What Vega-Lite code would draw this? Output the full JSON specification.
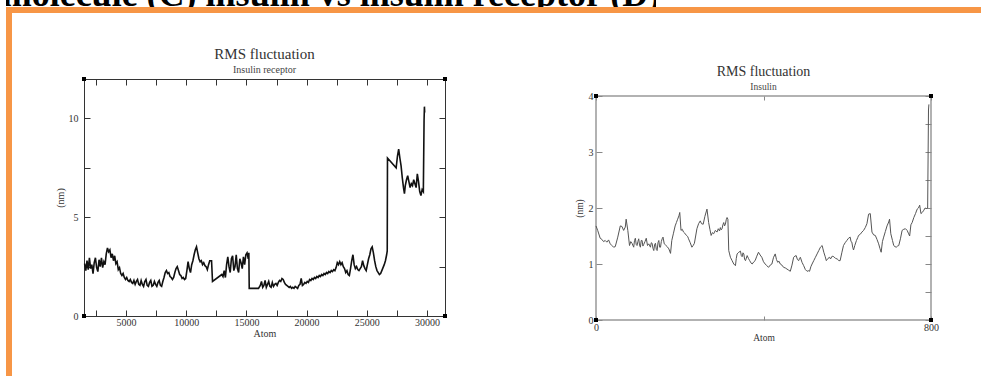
{
  "$schema": "https://vega.github.io/schema/vega-lite/v6.json",
  "padding": {"left": 6, "top": 0, "right": 0, "bottom": 0},
  "background": "white",
  "spacing": 0,
  "bounds": "flush",
  "config": {"font": "Liberation Serif", "axis": {"grid": false, "domain": false, "labelFlush": false}},
  "datasets": {
    "caption": [{"text": "molecule (C) insulin vs insulin receptor (D)"}],
    "blank": [{}],
    "receptor": [
      {"atom":1550,"rmsf":2.65},{"atom":1650,"rmsf":2.3},{"atom":1750,"rmsf":2.8},{"atom":1850,"rmsf":2.35},{"atom":1950,"rmsf":2.95},{"atom":2050,"rmsf":2.4},{"atom":2150,"rmsf":2.6},{"atom":2250,"rmsf":2.15},{"atom":2350,"rmsf":2.7},{"atom":2450,"rmsf":2.95},{"atom":2550,"rmsf":2.45},{"atom":2650,"rmsf":2.25},{"atom":2750,"rmsf":2.85},{"atom":2850,"rmsf":2.5},{"atom":2950,"rmsf":2.95},{"atom":3050,"rmsf":2.45},{"atom":3150,"rmsf":2.75},{"atom":3250,"rmsf":2.6},{"atom":3350,"rmsf":3.15},{"atom":3450,"rmsf":3.45},{"atom":3550,"rmsf":3.25},{"atom":3650,"rmsf":3.35},{"atom":3750,"rmsf":2.95},{"atom":3850,"rmsf":3.15},{"atom":3950,"rmsf":2.8},{"atom":4050,"rmsf":3.05},{"atom":4150,"rmsf":2.65},{"atom":4250,"rmsf":2.75},{"atom":4350,"rmsf":2.35},{"atom":4450,"rmsf":2.45},{"atom":4550,"rmsf":2.15},{"atom":4650,"rmsf":2.05},{"atom":4750,"rmsf":2.15},{"atom":4850,"rmsf":1.95},{"atom":4950,"rmsf":1.85},{"atom":5050,"rmsf":1.95},{"atom":5150,"rmsf":1.8},{"atom":5250,"rmsf":1.75},{"atom":5350,"rmsf":1.85},{"atom":5450,"rmsf":1.7},{"atom":5550,"rmsf":1.65},{"atom":5650,"rmsf":1.8},{"atom":5750,"rmsf":1.6},{"atom":5850,"rmsf":1.75},{"atom":5950,"rmsf":1.85},{"atom":6050,"rmsf":1.6},{"atom":6150,"rmsf":1.55},{"atom":6250,"rmsf":1.8},{"atom":6350,"rmsf":1.6},{"atom":6450,"rmsf":1.5},{"atom":6550,"rmsf":1.75},{"atom":6650,"rmsf":1.85},{"atom":6750,"rmsf":1.55},{"atom":6850,"rmsf":1.5},{"atom":6950,"rmsf":1.7},{"atom":7050,"rmsf":1.8},{"atom":7150,"rmsf":1.5},{"atom":7250,"rmsf":1.55},{"atom":7350,"rmsf":1.75},{"atom":7450,"rmsf":1.6},{"atom":7550,"rmsf":1.5},{"atom":7650,"rmsf":1.7},{"atom":7750,"rmsf":1.8},{"atom":7850,"rmsf":1.55},{"atom":7950,"rmsf":1.5},{"atom":8050,"rmsf":1.75},{"atom":8150,"rmsf":1.95},{"atom":8250,"rmsf":2.2},{"atom":8350,"rmsf":2.3},{"atom":8450,"rmsf":2.15},{"atom":8550,"rmsf":2.2},{"atom":8650,"rmsf":2.0},{"atom":8750,"rmsf":1.95},{"atom":8850,"rmsf":1.85},{"atom":8950,"rmsf":1.95},{"atom":9050,"rmsf":2.2},{"atom":9150,"rmsf":2.4},{"atom":9250,"rmsf":2.5},{"atom":9350,"rmsf":2.3},{"atom":9450,"rmsf":2.1},{"atom":9550,"rmsf":2.05},{"atom":9650,"rmsf":1.9},{"atom":9750,"rmsf":1.95},{"atom":9850,"rmsf":1.85},{"atom":9950,"rmsf":1.9},{"atom":10050,"rmsf":2.3},{"atom":10150,"rmsf":2.75},{"atom":10250,"rmsf":2.4},{"atom":10350,"rmsf":2.2},{"atom":10450,"rmsf":2.6},{"atom":10550,"rmsf":2.8},{"atom":10650,"rmsf":3.1},{"atom":10750,"rmsf":3.35},{"atom":10850,"rmsf":3.5},{"atom":10950,"rmsf":3.2},{"atom":11050,"rmsf":2.9},{"atom":11150,"rmsf":2.75},{"atom":11250,"rmsf":2.8},{"atom":11350,"rmsf":2.6},{"atom":11450,"rmsf":2.7},{"atom":11550,"rmsf":2.55},{"atom":11650,"rmsf":2.5},{"atom":11750,"rmsf":2.35},{"atom":11850,"rmsf":2.6},{"atom":11950,"rmsf":2.8},{"atom":12100,"rmsf":2.8},{"atom":12180,"rmsf":1.75},{"atom":12950,"rmsf":2.1},{"atom":13050,"rmsf":2.0},{"atom":13150,"rmsf":2.3},{"atom":13250,"rmsf":1.95},{"atom":13350,"rmsf":2.6},{"atom":13450,"rmsf":3.0},{"atom":13550,"rmsf":2.5},{"atom":13650,"rmsf":2.2},{"atom":13750,"rmsf":2.9},{"atom":13850,"rmsf":3.05},{"atom":13950,"rmsf":2.3},{"atom":14050,"rmsf":2.5},{"atom":14150,"rmsf":3.1},{"atom":14250,"rmsf":2.4},{"atom":14350,"rmsf":2.2},{"atom":14450,"rmsf":2.9},{"atom":14550,"rmsf":2.7},{"atom":14650,"rmsf":2.4},{"atom":14750,"rmsf":3.0},{"atom":14850,"rmsf":2.6},{"atom":14950,"rmsf":3.1},{"atom":15050,"rmsf":3.2},{"atom":15150,"rmsf":2.9},{"atom":15200,"rmsf":3.2},{"atom":15230,"rmsf":1.4},{"atom":16000,"rmsf":1.4},
      {"atom":16150,"rmsf":1.55},{"atom":16250,"rmsf":1.75},{"atom":16350,"rmsf":1.45},{"atom":16450,"rmsf":1.55},{"atom":16550,"rmsf":1.8},{"atom":16650,"rmsf":1.45},{"atom":16750,"rmsf":1.6},{"atom":16850,"rmsf":1.75},{"atom":16950,"rmsf":1.5},{"atom":17050,"rmsf":1.45},{"atom":17150,"rmsf":1.7},{"atom":17250,"rmsf":1.5},{"atom":17350,"rmsf":1.6},{"atom":17450,"rmsf":1.65},{"atom":17550,"rmsf":1.55},{"atom":17650,"rmsf":1.7},{"atom":17750,"rmsf":1.8},{"atom":17850,"rmsf":1.75},{"atom":17950,"rmsf":1.9},{"atom":18050,"rmsf":1.85},{"atom":18150,"rmsf":1.7},{"atom":18250,"rmsf":1.6},{"atom":18350,"rmsf":1.55},{"atom":18450,"rmsf":1.5},{"atom":18550,"rmsf":1.45},{"atom":18650,"rmsf":1.5},{"atom":18750,"rmsf":1.4},{"atom":18850,"rmsf":1.45},{"atom":18950,"rmsf":1.4},{"atom":19050,"rmsf":1.5},{"atom":19150,"rmsf":1.45},{"atom":19250,"rmsf":1.4},{"atom":19350,"rmsf":1.55},{"atom":19450,"rmsf":1.6},{"atom":19550,"rmsf":1.9},{"atom":19650,"rmsf":1.55},{"atom":19750,"rmsf":1.6},{"atom":19850,"rmsf":1.7},{"atom":19950,"rmsf":1.65},{"atom":20050,"rmsf":1.75},{"atom":20150,"rmsf":1.7},{"atom":20250,"rmsf":1.85},{"atom":20350,"rmsf":1.8},{"atom":20450,"rmsf":1.9},{"atom":20550,"rmsf":1.85},{"atom":20650,"rmsf":1.95},{"atom":20750,"rmsf":1.9},{"atom":20850,"rmsf":2.0},{"atom":20950,"rmsf":1.95},{"atom":21050,"rmsf":2.05},{"atom":21150,"rmsf":2.0},{"atom":21250,"rmsf":2.1},{"atom":21350,"rmsf":2.05},{"atom":21450,"rmsf":2.15},{"atom":21550,"rmsf":2.1},{"atom":21650,"rmsf":2.2},{"atom":21750,"rmsf":2.15},{"atom":21850,"rmsf":2.25},{"atom":21950,"rmsf":2.2},{"atom":22050,"rmsf":2.3},{"atom":22150,"rmsf":2.25},{"atom":22250,"rmsf":2.35},{"atom":22350,"rmsf":2.3},{"atom":22450,"rmsf":2.45},{"atom":22550,"rmsf":2.7},{"atom":22650,"rmsf":2.6},{"atom":22750,"rmsf":2.75},{"atom":22850,"rmsf":2.6},{"atom":22950,"rmsf":2.7},{"atom":23050,"rmsf":2.5},{"atom":23150,"rmsf":2.4},{"atom":23250,"rmsf":2.2},{"atom":23350,"rmsf":2.3},{"atom":23450,"rmsf":2.1},{"atom":23550,"rmsf":2.05},{"atom":23650,"rmsf":2.4},{"atom":23750,"rmsf":2.8},{"atom":23850,"rmsf":3.1},{"atom":23950,"rmsf":2.6},{"atom":24050,"rmsf":2.4},{"atom":24150,"rmsf":2.5},{"atom":24250,"rmsf":2.35},{"atom":24350,"rmsf":2.3},{"atom":24450,"rmsf":2.4},{"atom":24550,"rmsf":2.5},{"atom":24650,"rmsf":2.8},{"atom":24750,"rmsf":2.55},{"atom":24850,"rmsf":2.4},{"atom":24950,"rmsf":2.3},{"atom":25050,"rmsf":2.6},{"atom":25150,"rmsf":2.9},{"atom":25250,"rmsf":3.1},{"atom":25350,"rmsf":3.4},{"atom":25450,"rmsf":3.5},{"atom":25550,"rmsf":3.2},{"atom":25650,"rmsf":2.8},{"atom":25750,"rmsf":2.5},{"atom":25850,"rmsf":2.3},{"atom":25950,"rmsf":2.2},{"atom":26050,"rmsf":2.1},{"atom":26150,"rmsf":2.15},{"atom":26250,"rmsf":2.3},{"atom":26350,"rmsf":2.45},{"atom":26450,"rmsf":2.6},{"atom":26550,"rmsf":2.8},{"atom":26650,"rmsf":3.1},{"atom":26700,"rmsf":3.3},{"atom":26720,"rmsf":8.0},{"atom":27440,"rmsf":7.5},{"atom":27550,"rmsf":8.1},{"atom":27650,"rmsf":8.45},{"atom":27750,"rmsf":8.0},{"atom":27850,"rmsf":7.6},{"atom":27950,"rmsf":7.0},{"atom":28050,"rmsf":6.5},{"atom":28130,"rmsf":6.2},{"atom":28200,"rmsf":6.6},{"atom":28300,"rmsf":6.9},{"atom":28400,"rmsf":7.1},{"atom":28500,"rmsf":6.8},{"atom":28600,"rmsf":6.5},{"atom":28700,"rmsf":6.7},{"atom":28800,"rmsf":6.6},{"atom":28900,"rmsf":6.9},{"atom":29000,"rmsf":6.7},{"atom":29100,"rmsf":6.5},{"atom":29200,"rmsf":7.2},{"atom":29300,"rmsf":6.8},{"atom":29400,"rmsf":6.3},{"atom":29500,"rmsf":6.1},{"atom":29600,"rmsf":6.4},{"atom":29700,"rmsf":6.3},{"atom":29760,"rmsf":9.9},{"atom":29790,"rmsf":10.6},{"atom":29810,"rmsf":10.3}
    ],
    "insulin": [
      {"atom":0,"rmsf":1.68},{"atom":4,"rmsf":1.6},{"atom":10,"rmsf":1.46},{"atom":14,"rmsf":1.44},{"atom":18,"rmsf":1.4},{"atom":22,"rmsf":1.42},{"atom":26,"rmsf":1.39},{"atom":30,"rmsf":1.43},{"atom":34,"rmsf":1.36},{"atom":38,"rmsf":1.33},{"atom":42,"rmsf":1.3},{"atom":46,"rmsf":1.31},{"atom":52,"rmsf":1.48},{"atom":58,"rmsf":1.68},{"atom":62,"rmsf":1.67},{"atom":66,"rmsf":1.6},{"atom":70,"rmsf":1.66},{"atom":72,"rmsf":1.8},{"atom":76,"rmsf":1.6},{"atom":80,"rmsf":1.33},{"atom":83,"rmsf":1.4},{"atom":86,"rmsf":1.37},{"atom":90,"rmsf":1.3},{"atom":92,"rmsf":1.42},{"atom":94,"rmsf":1.46},{"atom":96,"rmsf":1.35},{"atom":98,"rmsf":1.33},{"atom":100,"rmsf":1.4},{"atom":102,"rmsf":1.45},{"atom":104,"rmsf":1.34},{"atom":106,"rmsf":1.3},{"atom":108,"rmsf":1.42},{"atom":110,"rmsf":1.42},{"atom":112,"rmsf":1.32},{"atom":114,"rmsf":1.35},{"atom":117,"rmsf":1.4},{"atom":120,"rmsf":1.46},{"atom":123,"rmsf":1.33},{"atom":126,"rmsf":1.36},{"atom":130,"rmsf":1.3},{"atom":132,"rmsf":1.38},{"atom":134,"rmsf":1.37},{"atom":136,"rmsf":1.28},{"atom":138,"rmsf":1.24},{"atom":140,"rmsf":1.35},{"atom":142,"rmsf":1.37},{"atom":144,"rmsf":1.26},{"atom":146,"rmsf":1.24},{"atom":148,"rmsf":1.38},{"atom":150,"rmsf":1.42},{"atom":152,"rmsf":1.3},{"atom":154,"rmsf":1.3},{"atom":156,"rmsf":1.4},{"atom":158,"rmsf":1.45},{"atom":160,"rmsf":1.48},{"atom":163,"rmsf":1.36},{"atom":166,"rmsf":1.34},{"atom":170,"rmsf":1.31},{"atom":174,"rmsf":1.27},{"atom":178,"rmsf":1.19},{"atom":181,"rmsf":1.42},{"atom":185,"rmsf":1.55},{"atom":189,"rmsf":1.68},{"atom":192,"rmsf":1.74},{"atom":195,"rmsf":1.8},{"atom":198,"rmsf":1.86},{"atom":200,"rmsf":1.92},{"atom":203,"rmsf":1.6},{"atom":206,"rmsf":1.62},{"atom":209,"rmsf":1.57},{"atom":212,"rmsf":1.55},{"atom":216,"rmsf":1.51},{"atom":219,"rmsf":1.49},{"atom":221,"rmsf":1.45},{"atom":225,"rmsf":1.38},{"atom":229,"rmsf":1.3},{"atom":232,"rmsf":1.33},{"atom":235,"rmsf":1.37},{"atom":238,"rmsf":1.5},{"atom":241,"rmsf":1.63},{"atom":245,"rmsf":1.72},{"atom":249,"rmsf":1.77},{"atom":252,"rmsf":1.72},{"atom":256,"rmsf":1.71},{"atom":260,"rmsf":1.85},{"atom":265,"rmsf":1.98},{"atom":269,"rmsf":1.74},{"atom":272,"rmsf":1.62},{"atom":275,"rmsf":1.51},{"atom":278,"rmsf":1.56},{"atom":281,"rmsf":1.54},{"atom":285,"rmsf":1.6},{"atom":289,"rmsf":1.57},{"atom":292,"rmsf":1.63},{"atom":295,"rmsf":1.59},{"atom":297,"rmsf":1.65},{"atom":299,"rmsf":1.61},{"atom":301,"rmsf":1.63},{"atom":303,"rmsf":1.7},{"atom":305,"rmsf":1.74},{"atom":307,"rmsf":1.68},{"atom":309,"rmsf":1.71},{"atom":311,"rmsf":1.79},{"atom":313,"rmsf":1.83},{"atom":315,"rmsf":1.8},{"atom":317,"rmsf":1.24},{"atom":319,"rmsf":1.18},{"atom":321,"rmsf":1.12},{"atom":325,"rmsf":1.06},{"atom":329,"rmsf":1.0},{"atom":333,"rmsf":0.97},{"atom":335,"rmsf":1.1},{"atom":337,"rmsf":1.18},{"atom":341,"rmsf":1.21},{"atom":345,"rmsf":1.23},{"atom":347,"rmsf":1.15},{"atom":349,"rmsf":1.13},{"atom":351,"rmsf":1.2},{"atom":353,"rmsf":1.18},{"atom":355,"rmsf":1.08},{"atom":357,"rmsf":1.06},{"atom":361,"rmsf":1.15},{"atom":364,"rmsf":1.1},{"atom":367,"rmsf":1.06},{"atom":370,"rmsf":1.02},{"atom":373,"rmsf":1.0},{"atom":377,"rmsf":1.04},{"atom":380,"rmsf":1.06},{"atom":384,"rmsf":1.14},{"atom":388,"rmsf":1.21},{"atom":392,"rmsf":1.16},{"atom":396,"rmsf":1.12},{"atom":400,"rmsf":1.04},{"atom":404,"rmsf":1.0},{"atom":408,"rmsf":0.97},{"atom":412,"rmsf":0.94},{"atom":416,"rmsf":0.98},{"atom":420,"rmsf":1.0},{"atom":424,"rmsf":1.12},{"atom":428,"rmsf":1.18},{"atom":431,"rmsf":1.08},{"atom":434,"rmsf":1.03},{"atom":437,"rmsf":1.05},{"atom":440,"rmsf":1.0},{"atom":444,"rmsf":0.98},{"atom":448,"rmsf":0.94},{"atom":452,"rmsf":0.93},{"atom":456,"rmsf":0.91},{"atom":460,"rmsf":0.89},{"atom":464,"rmsf":0.87},{"atom":468,"rmsf":0.98},{"atom":472,"rmsf":1.12},{"atom":475,"rmsf":1.14},{"atom":478,"rmsf":1.15},{"atom":481,"rmsf":1.08},{"atom":484,"rmsf":1.06},{"atom":486,"rmsf":1.1},{"atom":488,"rmsf":1.12},{"atom":492,"rmsf":1.03},{"atom":496,"rmsf":0.97},{"atom":500,"rmsf":0.9},{"atom":504,"rmsf":0.87},{"atom":508,"rmsf":0.88},{"atom":510,"rmsf":0.87},{"atom":513,"rmsf":0.95},{"atom":516,"rmsf":1.0},{"atom":520,"rmsf":1.06},{"atom":524,"rmsf":1.12},{"atom":528,"rmsf":1.18},{"atom":532,"rmsf":1.24},{"atom":536,"rmsf":1.3},{"atom":540,"rmsf":1.33},{"atom":542,"rmsf":1.27},{"atom":544,"rmsf":1.21},{"atom":547,"rmsf":1.14},{"atom":550,"rmsf":1.06},{"atom":554,"rmsf":1.1},{"atom":558,"rmsf":1.12},{"atom":560,"rmsf":1.09},{"atom":564,"rmsf":1.14},{"atom":568,"rmsf":1.13},{"atom":572,"rmsf":1.1},{"atom":576,"rmsf":1.09},{"atom":580,"rmsf":1.06},{"atom":583,"rmsf":1.06},{"atom":587,"rmsf":1.2},{"atom":591,"rmsf":1.33},{"atom":595,"rmsf":1.38},{"atom":599,"rmsf":1.42},{"atom":603,"rmsf":1.46},{"atom":607,"rmsf":1.48},{"atom":609,"rmsf":1.4},{"atom":611,"rmsf":1.39},{"atom":613,"rmsf":1.3},{"atom":615,"rmsf":1.25},{"atom":618,"rmsf":1.33},{"atom":622,"rmsf":1.42},{"atom":625,"rmsf":1.47},{"atom":627,"rmsf":1.51},{"atom":631,"rmsf":1.53},{"atom":635,"rmsf":1.57},{"atom":639,"rmsf":1.6},{"atom":643,"rmsf":1.65},{"atom":647,"rmsf":1.72},{"atom":651,"rmsf":1.89},{"atom":655,"rmsf":1.9},{"atom":659,"rmsf":1.57},{"atom":663,"rmsf":1.52},{"atom":667,"rmsf":1.51},{"atom":671,"rmsf":1.44},{"atom":675,"rmsf":1.36},{"atom":678,"rmsf":1.28},{"atom":681,"rmsf":1.21},{"atom":684,"rmsf":1.4},{"atom":687,"rmsf":1.48},{"atom":691,"rmsf":1.58},{"atom":695,"rmsf":1.68},{"atom":699,"rmsf":1.75},{"atom":701,"rmsf":1.8},{"atom":704,"rmsf":1.54},{"atom":708,"rmsf":1.42},{"atom":711,"rmsf":1.33},{"atom":714,"rmsf":1.31},{"atom":717,"rmsf":1.3},{"atom":720,"rmsf":1.32},{"atom":723,"rmsf":1.33},{"atom":727,"rmsf":1.45},{"atom":731,"rmsf":1.6},{"atom":735,"rmsf":1.62},{"atom":739,"rmsf":1.63},{"atom":743,"rmsf":1.6},{"atom":746,"rmsf":1.55},{"atom":749,"rmsf":1.5},{"atom":752,"rmsf":1.7},{"atom":755,"rmsf":1.74},{"atom":759,"rmsf":1.83},{"atom":763,"rmsf":1.9},{"atom":767,"rmsf":1.98},{"atom":770,"rmsf":2.0},{"atom":773,"rmsf":2.05},{"atom":776,"rmsf":1.9},{"atom":779,"rmsf":1.92},{"atom":782,"rmsf":1.95},{"atom":786,"rmsf":2.0},{"atom":789,"rmsf":1.99},{"atom":792,"rmsf":2.0},{"atom":794,"rmsf":3.75},{"atom":795,"rmsf":3.85}
    ]
  },
  "vconcat": [
    {
      "width": 650, "height": 7,
      "data": {"name": "caption"},
      "mark": {"type": "text", "clip": true, "font": "Liberation Serif", "fontSize": 36, "fontWeight": "bold", "baseline": "alphabetic", "align": "center", "dy": 2.5, "color": "black"},
      "encoding": {"text": {"field": "text"}},
      "view": {"stroke": null}
    },
    {
      "width": 975, "height": 6,
      "data": {"name": "blank"},
      "mark": {"type": "text", "text": ""},
      "encoding": {},
      "view": {"fill": "#f79646", "stroke": null}
    },
    {
      "spacing": 42,
      "hconcat": [
        {
          "width": 6, "height": 363,
          "data": {"name": "blank"},
          "mark": {"type": "text", "text": ""},
          "encoding": {},
          "view": {"fill": "#f79646", "stroke": null}
        },
        {
          "spacing": 125,
          "hconcat": [
            {
              "spacing": 27,
              "vconcat": [
                {"width": 1, "height": 1, "data": {"name": "blank"}, "mark": {"type": "text", "text": ""}, "encoding": {}, "view": {"stroke": null}},
                {
                  "width": 361, "height": 237,
                  "view": {"stroke": "#333", "strokeWidth": 1},
                  "title": {"text": "RMS fluctuation", "subtitle": "Insulin receptor", "font": "Liberation Serif", "fontSize": 15, "fontWeight": "normal", "color": "#333", "subtitleFont": "Liberation Serif", "subtitleFontSize": 10, "subtitleColor": "#444", "subtitlePadding": 3, "offset": 2, "anchor": "middle"},
                  "layer": [
                    {
                      "data": {"name": "receptor"},
                      "mark": {"type": "line", "color": "#111", "strokeWidth": 1.6},
                      "encoding": {
                        "x": {"field": "atom", "type": "quantitative", "scale": {"domain": [1500, 31500], "nice": false, "zero": false},
                          "axis": {"orient": "bottom", "values": [2500,5000,7500,10000,12500,15000,17500,20000,22500,25000,27500,30000], "format": "d", "labelExpr": "datum.value % 5000 == 0 ? datum.label : ''", "tickSize": -6, "tickColor": "#333", "labelPadding": 7, "labelFont": "Liberation Serif", "labelFontSize": 10, "labelColor": "#333", "title": "Atom", "titleFont": "Liberation Serif", "titleFontSize": 10, "titleFontWeight": "normal", "titleColor": "#333", "titlePadding": 1}},
                        "y": {"field": "rmsf", "type": "quantitative", "scale": {"domain": [0, 12], "nice": false},
                          "axis": {"orient": "left", "values": [0, 2.5, 5, 7.5, 10], "format": "d", "labelExpr": "datum.value % 5 == 0 ? datum.label : ''", "tickSize": -6, "tickColor": "#333", "labelPadding": 12, "labelFont": "Liberation Serif", "labelFontSize": 10, "labelColor": "#333", "title": "(nm)", "titleFont": "Liberation Serif", "titleFontSize": 10, "titleFontWeight": "normal", "titleColor": "#333", "titlePadding": 3}}
                      }
                    },
                    {
                      "data": {"name": "receptor"},
                      "mark": {"type": "line", "opacity": 0},
                      "encoding": {
                        "x": {"field": "atom", "type": "quantitative", "axis": {"orient": "top", "values": [2500,5000,7500,10000,12500,15000,17500,20000,22500,25000,27500,30000], "labels": false, "tickSize": -6, "tickColor": "#333", "title": null}},
                        "y": {"field": "rmsf", "type": "quantitative", "axis": {"orient": "right", "values": [0, 2.5, 5, 7.5, 10], "labels": false, "tickSize": -6, "tickColor": "#333", "title": null}}
                      }
                    },
                    {
                      "data": {"values": [{"atom": 1500, "rmsf": 0}, {"atom": 31500, "rmsf": 0}, {"atom": 1500, "rmsf": 12}, {"atom": 31500, "rmsf": 12}]},
                      "mark": {"type": "square", "size": 16, "color": "black", "opacity": 1},
                      "encoding": {
                        "x": {"field": "atom", "type": "quantitative", "axis": null},
                        "y": {"field": "rmsf", "type": "quantitative", "axis": null}
                      }
                    }
                  ],
                  "resolve": {"axis": {"x": "independent", "y": "independent"}}
                }
              ]
            },
            {
              "spacing": 44,
              "vconcat": [
                {"width": 1, "height": 1, "data": {"name": "blank"}, "mark": {"type": "text", "text": ""}, "encoding": {}, "view": {"stroke": null}},
                {
                  "width": 335, "height": 224,
                  "view": {"stroke": "#999", "strokeWidth": 1.5},
                  "title": {"text": "RMS fluctuation", "subtitle": "Insulin", "font": "Liberation Serif", "fontSize": 14, "fontWeight": "normal", "color": "#333", "subtitleFont": "Liberation Serif", "subtitleFontSize": 9.5, "subtitleColor": "#444", "subtitlePadding": 3, "offset": 0, "anchor": "middle"},
                  "layer": [
                    {
                      "data": {"name": "insulin"},
                      "mark": {"type": "line", "color": "#555", "strokeWidth": 1},
                      "encoding": {
                        "x": {"field": "atom", "type": "quantitative", "scale": {"domain": [0, 800], "nice": false, "zero": false},
                          "axis": {"orient": "bottom", "values": [0, 400, 800], "format": "d", "labelExpr": "datum.value == 400 ? '' : datum.label", "tickSize": -4, "tickColor": "#888", "labelPadding": 6, "labelFont": "Liberation Serif", "labelFontSize": 10, "labelColor": "#333", "title": "Atom", "titleFont": "Liberation Serif", "titleFontSize": 9.5, "titleFontWeight": "normal", "titleColor": "#333", "titlePadding": 0}},
                        "y": {"field": "rmsf", "type": "quantitative", "scale": {"domain": [0, 4], "nice": false},
                          "axis": {"orient": "left", "values": [0, 0.5, 1, 1.5, 2, 2.5, 3, 3.5, 4], "format": "d", "labelExpr": "datum.value % 1 == 0 ? datum.label : ''", "tickSize": -6, "tickColor": "#888", "labelPadding": 9, "labelFont": "Liberation Serif", "labelFontSize": 10, "labelColor": "#333", "title": "(nm)", "titleFont": "Liberation Serif", "titleFontSize": 9.5, "titleFontWeight": "normal", "titleColor": "#333", "titlePadding": 4}}
                      }
                    },
                    {
                      "data": {"name": "insulin"},
                      "mark": {"type": "line", "opacity": 0},
                      "encoding": {
                        "x": {"field": "atom", "type": "quantitative", "axis": {"orient": "top", "values": [0, 400, 800], "labels": false, "tickSize": -4, "tickColor": "#888", "title": null}},
                        "y": {"field": "rmsf", "type": "quantitative", "axis": {"orient": "right", "values": [0, 0.5, 1, 1.5, 2, 2.5, 3, 3.5, 4], "labels": false, "tickSize": -6, "tickColor": "#888", "title": null}}
                      }
                    },
                    {
                      "data": {"values": [{"atom": 0, "rmsf": 0}, {"atom": 800, "rmsf": 0}, {"atom": 0, "rmsf": 4}, {"atom": 800, "rmsf": 4}]},
                      "mark": {"type": "square", "size": 16, "color": "black", "opacity": 1},
                      "encoding": {
                        "x": {"field": "atom", "type": "quantitative", "axis": null},
                        "y": {"field": "rmsf", "type": "quantitative", "axis": null}
                      }
                    }
                  ],
                  "resolve": {"axis": {"x": "independent", "y": "independent"}}
                }
              ]
            }
          ]
        }
      ]
    }
  ]
}
